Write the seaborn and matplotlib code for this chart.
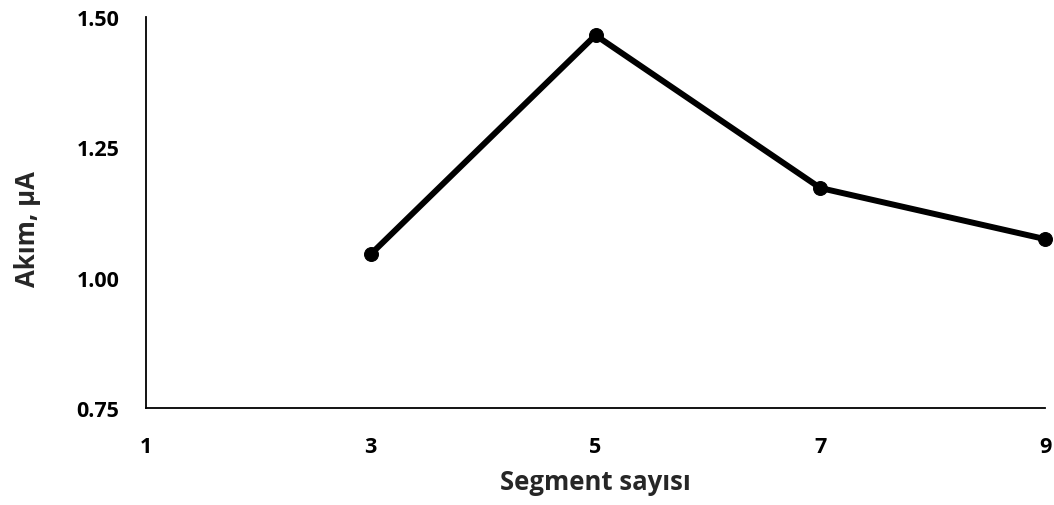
import matplotlib
matplotlib.use("Agg")
import matplotlib.pyplot as plt
import seaborn as sns
import pandas as pd

# Segment count vs. measured current
segments = [3, 5, 7, 9]
current_uA = [1.045, 1.465, 1.172, 1.074]

x_ticks = [1, 3, 5, 7, 9]
y_ticks = [0.75, 1.00, 1.25, 1.50]

sns.set_theme(style="white")
plt.rcParams["font.family"] = ["Open Sans", "DejaVu Sans"]
plt.rcParams["font.weight"] = "bold"

df = pd.DataFrame({"Segment sayısı": segments, "Akım, µA": current_uA})

fig = plt.figure(figsize=(10.54, 5.06), dpi=100)
ax = fig.add_axes([0.1385, 0.1917, 0.853, 0.7727])

sns.lineplot(data=df, x="Segment sayısı", y="Akım, µA", ax=ax,
             color="black", linewidth=4.3, marker="o", markersize=10,
             markeredgecolor="black", markerfacecolor="black", clip_on=False)

ax.set_xlim(1, 9)
ax.set_ylim(0.75, 1.50)
ax.set_xticks(x_ticks)
ax.set_xticklabels([str(t) for t in x_ticks])
ax.set_yticks(y_ticks)
ax.set_yticklabels([f"{t:.2f}" for t in y_ticks])
ax.tick_params(axis="both", length=0, labelsize=15.5, colors="black")
ax.tick_params(axis="x", pad=20)
ax.tick_params(axis="y", pad=19)
for lab in ax.get_xticklabels() + ax.get_yticklabels():
    lab.set_fontweight("bold")

for side in ["top", "right"]:
    ax.spines[side].set_visible(False)
for side in ["left", "bottom"]:
    ax.spines[side].set_color("black")
    ax.spines[side].set_linewidth(1.3)

ax.set_xlabel("Segment sayısı", fontsize=18.5, fontweight="bold", labelpad=8)
ax.set_ylabel("Akım, µA", fontsize=18.5, fontweight="bold")
ax.yaxis.set_label_coords(-0.117, 0.46)
ax.grid(False)

fig.savefig("out.png", dpi=100, facecolor="white")
